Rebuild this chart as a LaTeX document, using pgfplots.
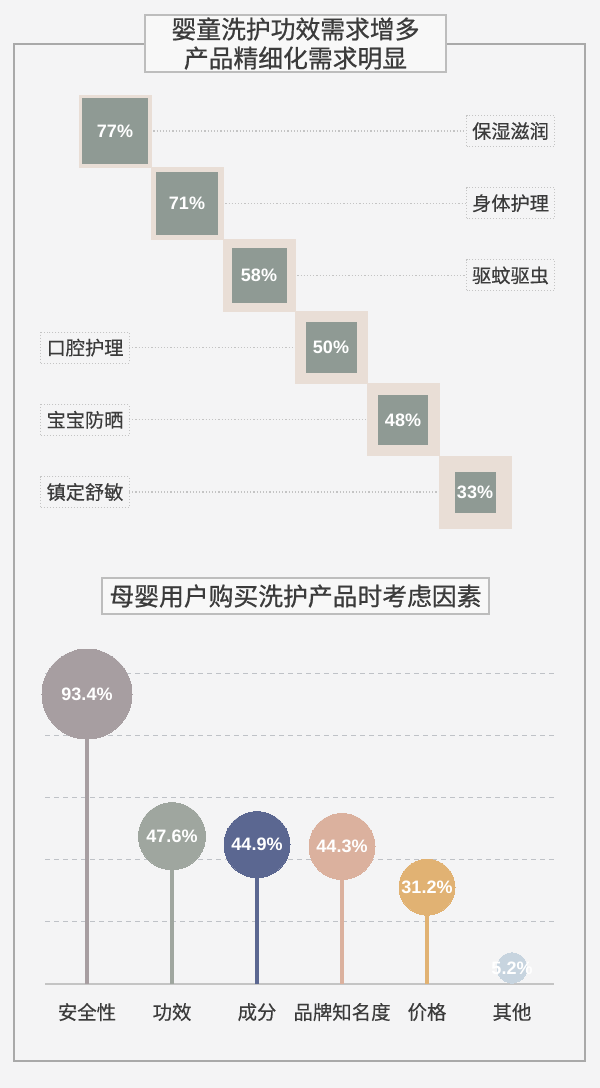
\documentclass[border=0pt]{standalone}
\usepackage{fontspec}
\setmainfont{Liberation Sans}
\newfontfamily\cjk{Noto Sans CJK SC}[FakeBold=0.8]
\newfontfamily\cjkl{Noto Sans CJK SC}[FakeBold=0.3]
\usepackage{pgfplots}
\pgfplotsset{compat=1.18}
\usepackage{pgfplotstable}
\pgfplotsset{/pgf/number format/assume math mode=true}
\definecolor{bg}{HTML}{F4F4F5}
\definecolor{framecol}{HTML}{A9A9A9}
\definecolor{boxfill}{HTML}{F8F8F8}
\definecolor{boxborder}{HTML}{BDBDBD}
\definecolor{txt}{HTML}{3B3B3B}
\definecolor{sqouter}{HTML}{E9DED6}
\definecolor{sqinner}{HTML}{8F9A94}
\definecolor{dotcol}{HTML}{C4C4C4}
\definecolor{gridcol}{HTML}{BFC2C7}
\definecolor{basecol}{HTML}{C4C4C4}
\definecolor{c1}{HTML}{A79EA1}
\definecolor{c2}{HTML}{9FA69F}
\definecolor{c3}{HTML}{5B6791}
\definecolor{c4}{HTML}{DBB19E}
\definecolor{c5}{HTML}{E1B273}
\definecolor{c6}{HTML}{C7D4DF}

% 婴童洗护功效需求 (%), index 0..5
\pgfplotstableread{
i v
0 77
1 71
2 58
3 50
4 48
5 33
}\effdata

\begin{document}
\begin{tikzpicture}[x=0.5bp,y=-0.5bp]
\fill[bg] (0,0) rectangle (600,1088);
\draw[framecol, line width=0.75bp] (14,44) rectangle (585,1061);
\node[draw=boxborder, fill=boxfill, line width=0.6bp, minimum width=150.5bp, minimum height=28.5bp, inner sep=0pt, align=center, text=txt, font=\cjk\fontsize{12.4bp}{14.5bp}\selectfont] at (295.5,43.5) {婴童洗护功效需求增多\\产品精细化需求明显};
\node[draw=boxborder, fill=boxfill, line width=0.6bp, minimum width=193.5bp, minimum height=18bp, inner sep=0pt, text=txt, font=\cjk\fontsize{12.4bp}{14.5bp}\selectfont] at (295.5,596) {母婴用户购买洗护产品时考虑因素};

\begin{axis}[at={(7bp,-280bp)}, anchor=south west, scale only axis,
  width=286bp, height=240bp,
  xmin=-1.4028, xmax=6.5417, ymin=-5.9418, ymax=0.7064,
  hide axis, clip=false]
\draw[dotcol, densely dotted, line width=0.6bp] (axis cs:0,0) -- (axis cs:4.875,0);
\draw[dotcol, densely dotted, line width=0.6bp] (axis cs:1,-1) -- (axis cs:4.875,-1);
\draw[dotcol, densely dotted, line width=0.6bp] (axis cs:2,-2) -- (axis cs:4.875,-2);
\draw[dotcol, densely dotted, line width=0.6bp] (axis cs:0.194,-3) -- (axis cs:3,-3);
\draw[dotcol, densely dotted, line width=0.6bp] (axis cs:0.194,-4) -- (axis cs:4,-4);
\draw[dotcol, densely dotted, line width=0.6bp] (axis cs:0.194,-5) -- (axis cs:5,-5);
\addplot[only marks, mark=square*, mark size=18bp, color=sqouter]
  table[x=i, y expr=-\thisrow{i}] {\effdata};
\addplot[only marks, mark=square*, mark size=16.2bp, color=sqinner] coordinates {(0,0)};
\addplot[only marks, mark=square*, mark size=15.4bp, color=sqinner] coordinates {(1,-1)};
\addplot[only marks, mark=square*, mark size=13.5bp, color=sqinner] coordinates {(2,-2)};
\addplot[only marks, mark=square*, mark size=12.5bp, color=sqinner] coordinates {(3,-3)};
\addplot[only marks, mark=square*, mark size=12.1bp, color=sqinner] coordinates {(4,-4)};
\addplot[only marks, mark=square*, mark size=10bp, color=sqinner] coordinates {(5,-5)};
\addplot[draw=none, mark=none, point meta=\thisrow{v},
  nodes near coords={\pgfmathprintnumber{\pgfplotspointmeta}\%},
  every node near coord/.append style={anchor=center, text=white, font=\bfseries\fontsize{9bp}{10bp}\selectfont}]
  table[x=i, y expr=-\thisrow{i}] {\effdata};
\tikzset{lbl/.style={draw=dotcol, densely dotted, fill=bg, line width=0.5bp, minimum width=44bp, minimum height=15.5bp, inner sep=0pt, text=txt, font=\cjkl\fontsize{9.6bp}{11bp}\selectfont}}
\node[lbl] at (axis cs:5.493,0) {保湿滋润};
\node[lbl] at (axis cs:5.493,-1) {身体护理};
\node[lbl] at (axis cs:5.493,-2) {驱蚊驱虫};
\node[lbl] at (axis cs:-0.4167,-3) {口腔护理};
\node[lbl] at (axis cs:-0.4167,-4) {宝宝防晒};
\node[lbl] at (axis cs:-0.4167,-5) {镇定舒敏};
\end{axis}

\begin{axis}[at={(22.5bp,-492bp)}, anchor=south west, scale only axis,
  width=254.5bp, height=155.25bp,
  xmin=-0.4941, xmax=5.4941, ymin=0, ymax=100,
  axis x line*=bottom, axis y line*=left,
  x axis line style={-, color=basecol, line width=0.6bp},
  y axis line style={draw=none},
  xtick={0,1,2,3,4,5},
  xticklabels={安全性,功效,成分,品牌知名度,价格,其他},
  major tick length=0pt,
  ytick={20,40,60,80,100}, yticklabels={},
  ytick style={draw=none},
  ymajorgrids,
  grid style={gridcol, line width=0.5bp, dash pattern=on 2.5bp off 2bp},
  xticklabel style={font=\cjkl\fontsize{9.7bp}{11bp}\selectfont, text=txt, anchor=center, yshift=-14bp},
  clip=false,
  nodes near coords={\pgfmathprintnumber[fixed,fixed zerofill,precision=1]{\pgfplotspointmeta}\%},
  every node near coord/.append style={anchor=center, text=white, font=\bfseries\fontsize{9bp}{10bp}\selectfont}]
\addplot[ycomb, color=c1, line width=2.25bp, mark=*, mark size=22.5bp, mark options={line width=0pt}] coordinates {(0,93.4)};
\addplot[ycomb, color=c2, line width=2.25bp, mark=*, mark size=16.75bp, mark options={line width=0pt}] coordinates {(1,47.6)};
\addplot[ycomb, color=c3, line width=2.25bp, mark=*, mark size=16.5bp, mark options={line width=0pt}] coordinates {(2,44.9)};
\addplot[ycomb, color=c4, line width=2.25bp, mark=*, mark size=16.5bp, mark options={line width=0pt}] coordinates {(3,44.3)};
\addplot[ycomb, color=c5, line width=2.25bp, mark=*, mark size=14bp, mark options={line width=0pt}] coordinates {(4,31.2)};
\addplot[ycomb, color=c6, line width=2.25bp, mark=*, mark size=7.5bp, mark options={line width=0pt}] coordinates {(5,5.2)};
\end{axis}
\pgfresetboundingbox
\useasboundingbox (0,0) rectangle (600,1088);
\end{tikzpicture}
\end{document}
